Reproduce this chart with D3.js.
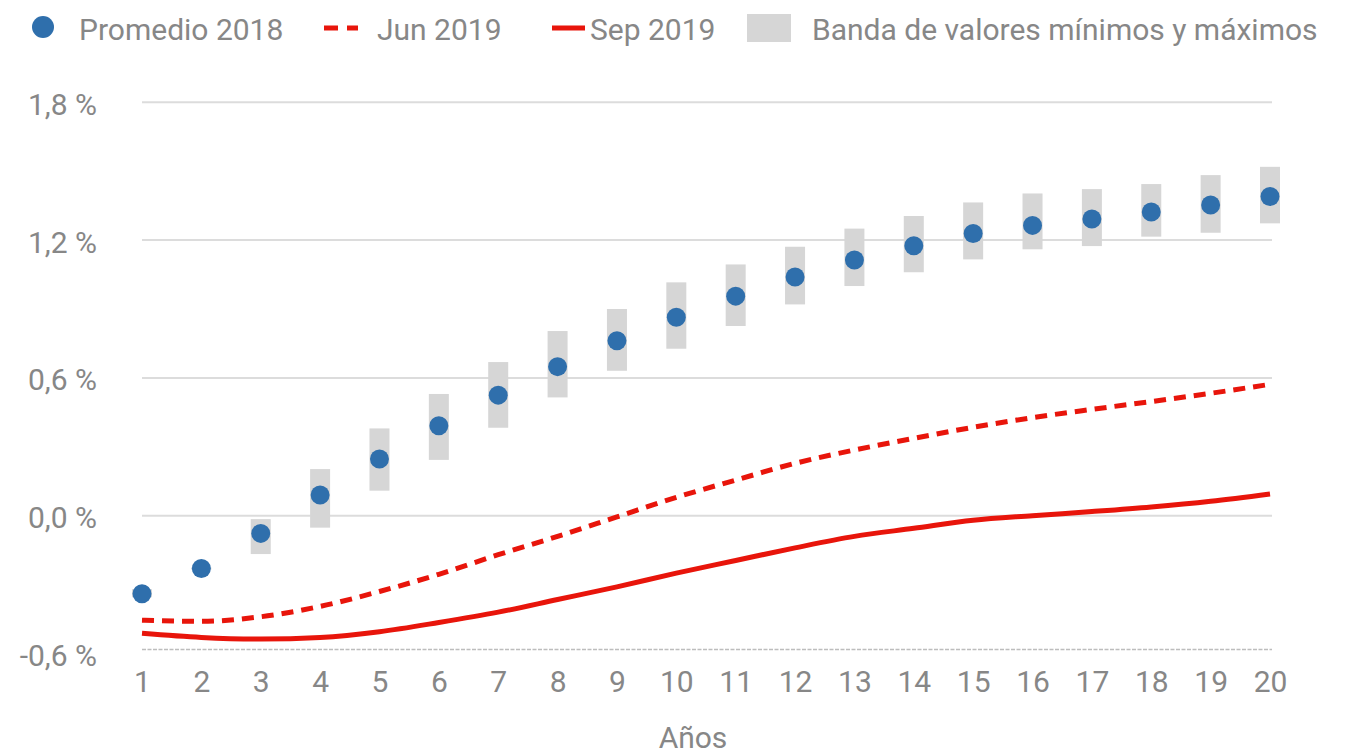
<!DOCTYPE html>
<html>
<head>
<meta charset="utf-8">
<script src="https://cdn.jsdelivr.net/npm/d3@7"></script>
<style>
  body { margin: 0; background: #fff; }
  text { font-family: Roboto, 'Noto Sans', sans-serif; fill: #878787; }
</style>
</head>
<body>
<div id="chart-area"></div>
<script>
/** Data **/
const years    = [1, 2, 3, 4, 5, 6, 7, 8, 9, 10, 11, 12, 13, 14, 15, 16, 17, 18, 19, 20];
const avg2018  = [-0.34, -0.23, -0.077, 0.09, 0.247, 0.392, 0.525, 0.649, 0.762, 0.864,
                  0.956, 1.039, 1.113, 1.175, 1.229, 1.264, 1.292, 1.322, 1.353, 1.39];
const bandMin  = [-0.355, -0.235, -0.167, -0.052, 0.109, 0.243, 0.383, 0.515, 0.631, 0.727,
                  0.826, 0.92, 1.0, 1.06, 1.116, 1.16, 1.174, 1.215, 1.232, 1.273];
const bandMax  = [-0.32, -0.225, -0.015, 0.203, 0.38, 0.53, 0.669, 0.804, 0.9, 1.016,
                  1.094, 1.171, 1.25, 1.305, 1.364, 1.403, 1.422, 1.444, 1.483, 1.519];
const jun2019  = [-0.455, -0.46, -0.44, -0.395, -0.33, -0.255, -0.17, -0.09, -0.005, 0.08,
                  0.155, 0.228, 0.286, 0.337, 0.385, 0.427, 0.463, 0.497, 0.533, 0.572];
const sep2019  = [-0.512, -0.53, -0.537, -0.53, -0.505, -0.465, -0.42, -0.365, -0.31, -0.25,
                  -0.195, -0.14, -0.09, -0.055, -0.02, 0.0, 0.018, 0.038, 0.063, 0.095];
const yTicks   = [-0.6, 0.0, 0.6, 1.2, 1.8];
const legendLabels = ['Promedio 2018', 'Jun 2019', 'Sep 2019', 'Banda de valores mínimos y máximos'];
const xTitle   = 'Años';

const BLUE = '#2f6fac', RED = '#e8150b', BAND = '#d6d6d6', GRID = '#dcdcdc';
const FS = 30;

/** Chart **/
Chart = function(_parentElement){
    this.parentElement = _parentElement;
    this.initVis();
};

Chart.prototype.initVis = function(){
    const vis = this;

    vis.svg = d3.select(vis.parentElement)
        .append('svg')
        .attr('width', 1349)
        .attr('height', 755);

    vis.x = d3.scaleLinear().domain([1, 20]).range([142, 1270]);
    vis.y = d3.scaleLinear().domain([-0.6, 1.8]).range([653.5, 102.3]);

    vis.drawAxes();
    vis.drawMarks();
    vis.drawLegend();
};

/** Grid + axis labels **/
Chart.prototype.drawAxes = function(){
    const vis = this;
    const x0 = vis.x.range()[0], x1 = vis.x.range()[1] + 2;

    // grid lines (the -0.6 one is a dotted base line)
    vis.svg.append('g').selectAll('line')
        .data(yTicks.filter(d => d !== -0.6))
        .enter().append('line')
            .attr('x1', x0).attr('x2', x1)
            .attr('y1', d => vis.y(d)).attr('y2', d => vis.y(d))
            .attr('stroke', GRID).attr('stroke-width', 2);

    vis.svg.append('line')
        .attr('x1', x0).attr('x2', x1)
        .attr('y1', vis.y(-0.6) - 4).attr('y2', vis.y(-0.6) - 4)
        .attr('stroke', '#bdbdbd').attr('stroke-width', 1.5)
        .attr('stroke-dasharray', '4,1.5');

    const fmt = d => d3.format('.1f')(d).replace('.', ',').replace('−', '-') + ' %';

    const yAxis = d3.axisLeft(vis.y).tickValues(yTicks).tickFormat(fmt).tickSize(0).tickPadding(0);
    vis.svg.append('g')
        .attr('transform', 'translate(97,0)')
        .call(yAxis)
        .call(g => g.select('.domain').remove())
        .selectAll('text')
            .attr('font-size', FS).attr('dy', '0.4em')
            .attr('fill', '#878787')
            .style('font-family', 'Roboto, sans-serif');

    const xAxis = d3.axisBottom(vis.x).tickValues(years).tickFormat(d3.format('d')).tickSize(0).tickPadding(0);
    vis.svg.append('g')
        .attr('transform', 'translate(0,692)')
        .call(xAxis)
        .call(g => g.select('.domain').remove())
        .selectAll('text')
            .attr('font-size', FS).attr('dy', 0)
            .attr('fill', '#878787')
            .style('font-family', 'Roboto, sans-serif');

    vis.svg.append('text')
        .attr('x', 693).attr('y', 748)
        .attr('text-anchor', 'middle')
        .attr('font-size', FS)
        .text(xTitle);
};

/** Bands, lines, dots **/
Chart.prototype.drawMarks = function(){
    const vis = this;
    const bw = 20;

    vis.svg.append('g').selectAll('rect')
        .data(years)
        .enter().append('rect')
            .attr('x', d => vis.x(d) - bw / 2)
            .attr('width', bw)
            .attr('y', (d, i) => vis.y(bandMax[i]))
            .attr('height', (d, i) => vis.y(bandMin[i]) - vis.y(bandMax[i]))
            .attr('fill', BAND);

    const line = d3.line()
        .x((d, i) => vis.x(years[i]))
        .y(d => vis.y(d))
        .curve(d3.curveMonotoneX);

    vis.svg.append('path')
        .attr('d', line(sep2019))
        .attr('fill', 'none').attr('stroke', RED).attr('stroke-width', 5);

    vis.svg.append('path')
        .attr('d', line(jun2019))
        .attr('fill', 'none').attr('stroke', RED).attr('stroke-width', 5)
        .attr('stroke-dasharray', '12,8');

    vis.svg.append('g').selectAll('circle')
        .data(years)
        .enter().append('circle')
            .attr('cx', d => vis.x(d))
            .attr('cy', (d, i) => vis.y(avg2018[i]))
            .attr('r', 9.5)
            .attr('fill', BLUE);
};

/** Legend **/
Chart.prototype.drawLegend = function(){
    const vis = this;
    const g = vis.svg.append('g').attr('class', 'legend');
    const cy = 28;

    g.append('circle').attr('cx', 43).attr('cy', 27).attr('r', 11).attr('fill', BLUE);
    g.append('line').attr('x1', 324).attr('x2', 358).attr('y1', cy).attr('y2', cy)
        .attr('stroke', RED).attr('stroke-width', 5).attr('stroke-dasharray', '14,9');
    g.append('line').attr('x1', 552).attr('x2', 585).attr('y1', cy).attr('y2', cy)
        .attr('stroke', RED).attr('stroke-width', 5);
    g.append('rect').attr('x', 747).attr('y', 14).attr('width', 44).attr('height', 28).attr('fill', BAND);

    const xs = [79, 377, 590, 812];
    g.selectAll('text.lbl')
        .data(legendLabels)
        .enter().append('text')
            .attr('class', 'lbl')
            .attr('x', (d, i) => xs[i])
            .attr('y', 40)
            .attr('font-size', FS)
            .text(d => d);
};

new Chart('#chart-area');
</script>
</body>
</html>
